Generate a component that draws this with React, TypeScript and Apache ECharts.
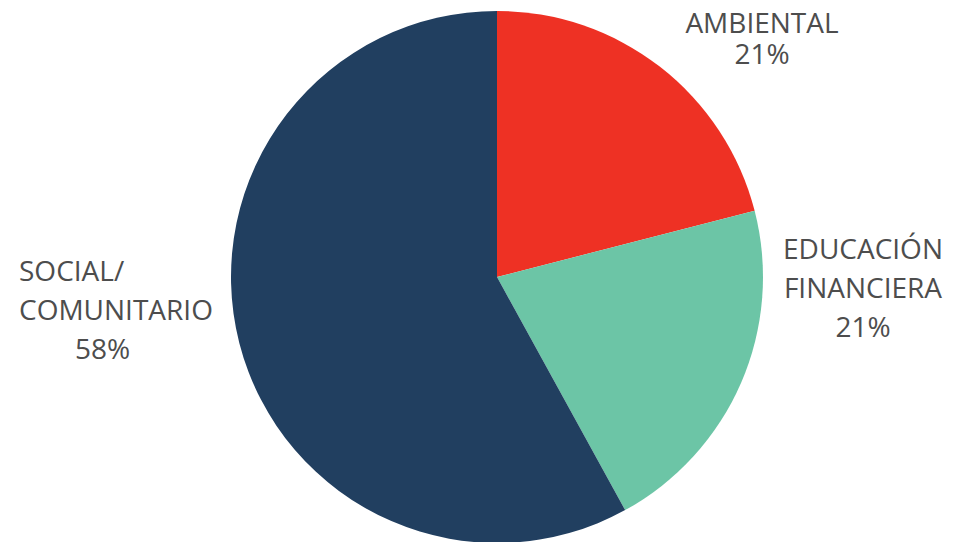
import React, { useEffect, useRef } from "react";
import * as echarts from "echarts";

const categories = ["AMBIENTAL", "EDUCACIÓN\nFINANCIERA", "SOCIAL/\nCOMUNITARIO"];
const values = [21, 21, 58];
const colors = ["#EE3124", "#6CC5A6", "#213F60"];
// label anchor positions (px) and styles
const labelPos = [
  { x: 762, y: 6, align: "center", lh: 31, pad: 0 },
  { x: 863, y: 228, align: "center", lh: 39, pad: 0 },
  { x: 19, y: 250, align: "left", lh: 39, pad: 56 },
];

export default function App() {
  const ref = useRef<HTMLDivElement>(null);
  useEffect(() => {
    const chart = echarts.init(ref.current!, null, { renderer: "svg" });
    chart.setOption({
      animation: false,
      backgroundColor: "#ffffff",
      series: [
        {
          type: "pie",
          center: [497, 277],
          radius: 266,
          startAngle: 90,
          clockwise: true,
          avoidLabelOverlap: false,
          labelLine: { show: false },
          data: categories.map((c, i) => ({
            name: c,
            value: values[i],
            itemStyle: { color: colors[i] },
            label: {
              show: true,
              formatter: "{n|{b}}\n{p|{d}%}",
              rich: {
                n: {
                  fontFamily: "Open Sans",
                  fontSize: 28,
                  color: "#4d4d4d",
                  lineHeight: labelPos[i].lh,
                  align: labelPos[i].align,
                },
                p: {
                  fontFamily: "Open Sans",
                  fontSize: 28,
                  color: "#4d4d4d",
                  lineHeight: labelPos[i].lh,
                  align: labelPos[i].align,
                  padding: [0, 0, 0, labelPos[i].pad],
                },
              },
            },
          })),
          labelLayout: (params: any) => {
            const p = labelPos[params.dataIndex];
            return { x: p.x, y: p.y, align: p.align, verticalAlign: "top", hideOverlap: false };
          },
        },
      ],
    });
    return () => chart.dispose();
  }, []);
  return (
    <div
      ref={ref}
      style={{ position: "absolute", left: 0, top: 0, width: 967, height: 542 }}
    />
  );
}
